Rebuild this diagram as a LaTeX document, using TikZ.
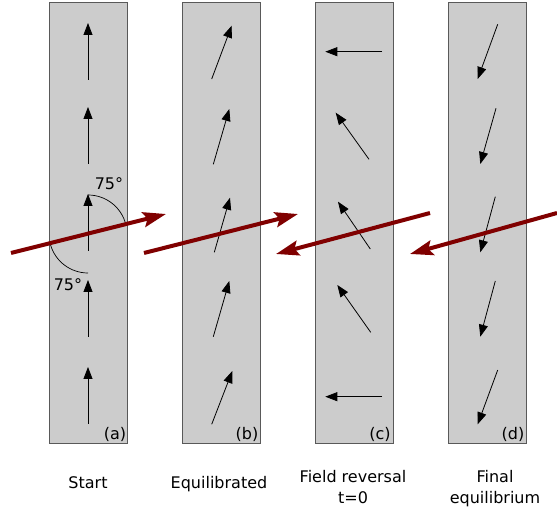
\documentclass[tikz,border=0pt]{standalone}
\usepackage{fontspec}
\setmainfont{DejaVu Sans}
\usetikzlibrary{arrows.meta}
\definecolor{stripgray}{HTML}{CCCCCC}
\definecolor{fieldred}{HTML}{800000}

\begin{document}
\begin{tikzpicture}[x=1pt,y=-1pt,
		strip/.style={fill=stripgray,draw=black!65,line width=1pt},
		spin/.style={-{Triangle[length=12pt,width=9pt]},line width=0.8pt},
		field/.style={-{Stealth[length=23pt,width=15pt,inset=4pt]},line width=4pt,fieldred},
		lbl/.style={font=\fontsize{16}{21}\selectfont,inner sep=0pt}]
			\useasboundingbox (0,0) rectangle (557,510);
			% the four strips
			\draw[strip] (49,3) rectangle (127,444);
			\draw[strip] (182,3) rectangle (260,444);
			\draw[strip] (315,3) rectangle (393,444);
			\draw[strip] (448,3) rectangle (526,444);
			% (a) start: all spins up
			\draw[spin] (88,80) -- (88,23);
			\draw[spin] (88,164) -- (88,107);
			\draw[spin] (88,251) -- (88,194);
			\draw[spin] (88,337) -- (88,280);
			\draw[spin] (88,424) -- (88,367);
			% (b) equilibrated
			\draw[spin] (211.7,79) -- (231.7,25.7);
			\draw[spin] (213.3,164.3) -- (229.3,109);
			\draw[spin] (214.3,252.3) -- (230,197.7);
			\draw[spin] (213.3,336.7) -- (229.3,281);
			\draw[spin] (211.7,424.3) -- (232.3,371);
			% (c) field reversal, t=0
			\draw[spin] (382,51.7) -- (325.3,51.7);
			\draw[spin] (369,159.3) -- (335.7,112.7);
			\draw[spin] (370.3,249) -- (338,201.7);
			\draw[spin] (370.7,332.3) -- (337.3,285);
			\draw[spin] (382,396.7) -- (325.3,396.7);
			% (d) final equilibrium
			\draw[spin] (497.7,24.3) -- (477.7,79);
			\draw[spin] (496,108.3) -- (480.3,164);
			\draw[spin] (495.3,196.7) -- (480.3,252.3);
			\draw[spin] (495.3,281) -- (480.3,336.7);
			\draw[spin] (497.7,370) -- (477.7,424.3);
			% angle marks
			\draw[line width=0.7pt] (88,195) arc[start angle=-90,end angle=-14,radius=39];
			\draw[line width=0.7pt] (88,273) arc[start angle=90,end angle=164,radius=39];
			\node[lbl] (angup) at (109,184) {75°};
			\node[lbl] (angdown) at (68,285) {75°};
			% applied field
			\draw[field] (11,253) -- (166,214);
			\draw[field] (144,253) -- (298,214);
			\draw[field] (430,213) -- (276,254);
			\draw[field] (557,213) -- (410,254);
			% panel letters
			\node[lbl] (pa) at (115,434) {(a)};
			\node[lbl] (pb) at (247,434) {(b)};
			\node[lbl] (pc) at (380,434) {(c)};
			\node[lbl] (pd) at (513,434) {(d)};
			% captions
			\node[lbl,anchor=base] (capa) at (88,488) {Start};
			\node[lbl,anchor=base] (capb) at (219,488) {Equilibrated};
			\node[lbl,anchor=north,align=center] (capc) at (353,469.8) {Field reversal\\t=0};
			\node[lbl,anchor=north,align=center] (capd) at (495,469.8) {Final\\equilibrium};
		\end{tikzpicture}
\end{document}
